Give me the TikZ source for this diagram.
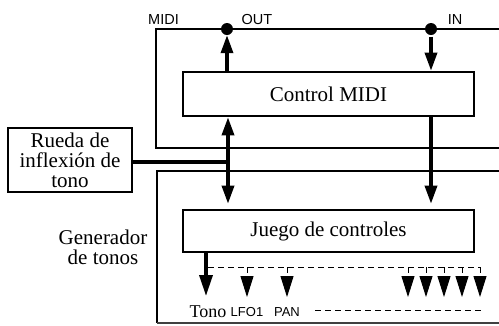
\documentclass[tikz,border=0pt]{standalone}
\usepackage{fontspec}
\setmainfont{Liberation Serif}
\newfontfamily\lsans{Liberation Sans}
\usetikzlibrary{arrows.meta}
\begin{document}
\begin{tikzpicture}[x=1pt,y=-1pt,
 box/.style={draw, line width=2.6pt, inner sep=0pt, font=\fontsize{21}{20}\selectfont},
 frame/.style={line width=2.5pt},
 dot/.style={circle, fill, inner sep=0pt, minimum size=12pt},
 arr/.style={line width=3.4pt, -{Triangle[width=12pt,length=18pt]}},
 darr/.style={line width=3.4pt, {Triangle[width=12pt,length=18pt]}-{Triangle[width=12pt,length=18pt]}},
 barr/.style={line width=3.4pt, -{Triangle[width=13pt,length=21pt]}},
 dsh/.style={line width=1pt, dash pattern=on 6pt off 4pt},
 darrow/.style={dsh, -{Triangle[width=13pt,length=21pt]}},
 lbl/.style={font=\lsans\fontsize{14.5}{15}\selectfont, anchor=base},
 sl/.style={font=\lsans\fontsize{13}{13}\selectfont, anchor=base},
]
\useasboundingbox (0,0) rectangle (499,325);
% frames
\draw[frame] (499,29) -- (156,29) -- (156,148) -- (499,148);
\draw[frame] (499,171) -- (157,171) -- (157,323);
\draw[line width=1.6pt, black!75] (157,323) -- (499,323);
% labels
\node[lbl] (lmidi) at (163.5,24) {MIDI};
\node[lbl] (lout) at (257,24) {OUT};
\node[lbl] (lin) at (455,24) {IN};
\node[dot] (out) at (227,29) {};
\node[dot] (in) at (431,29) {};
% boxes
\node[box, minimum width=291pt, minimum height=44pt] (cm) at (328.5,94) {Control MIDI};
\node[box, minimum width=291pt, minimum height=42pt] (jc) at (328.5,231) {Juego de controles};
\node[box, minimum width=124pt, minimum height=64pt, align=center] (rw) at (70,160) {Rueda de\\inflexión de\\tono};
\node[font=\fontsize{21}{20}\selectfont, align=center] (tg) at (103,247) {Generador\\de tonos};
% arrows
\draw[arr] (cm.north -| out) -- (out.south);
\draw[arr] ([yshift=-1.5pt]in.south) -- (cm.north -| in);
\coordinate (j) at (228,162);
\draw[darr] (cm.south -| j) -- ([yshift=5pt]jc.north -| j);
\draw[arr] (cm.south -| in) -- ([yshift=5pt]jc.north -| in);
\draw[line width=3.4pt] (rw.east |- j) -- (j);
% outputs
\node[font=\fontsize{18}{18}\selectfont, anchor=base] (tono) at (208,317) {Tono};
\node[sl] (lfo) at (247,316) {LFO1};
\node[sl] (pan) at (287,316) {PAN};
\coordinate (ta) at (206,296);
\draw[barr] (jc.south -| ta) -- (ta);
\coordinate (d0) at (208,267);
\coordinate (d1) at (480,267);
\draw[dsh] (d0) -- (d1);
\foreach \x in {247,287,408,426,444,462,480}{
  \draw[darrow] (\x,267) -- (\x,297);
}
\coordinate (e0) at (315,310);
\coordinate (e1) at (483,310);
\draw[dsh] (e0) -- (e1);
\end{tikzpicture}
\end{document}
